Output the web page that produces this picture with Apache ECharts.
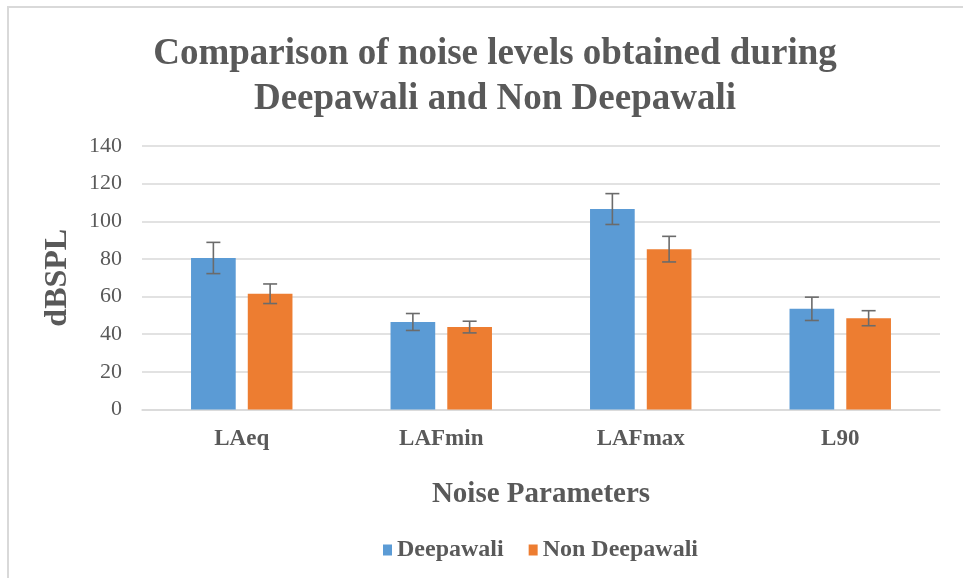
<!DOCTYPE html>
<html>
<head>
<meta charset="utf-8">
<script src="https://cdn.jsdelivr.net/npm/echarts@6/dist/echarts.min.js"></script>
<style>
html, body { margin: 0; padding: 0; background: #fff; }
#frame { position: absolute; left: 7px; top: 6px; right: 0; bottom: 0; border-left: 2px solid #d9d9d9; border-top: 2px solid #d9d9d9; }
#chart { position: absolute; left: 0; top: 0; width: 963px; height: 578px; }
</style>
</head>
<body>
<div id="frame"></div>
<div id="chart"></div>
<script>
// 数据
var categories = ['LAeq', 'LAFmin', 'LAFmax', 'L90'];
var deepawali = [80.5, 46.5, 106.5, 53.5];
var deepawaliErr = [8.3, 4.5, 8.2, 6.2];
var nonDeepawali = [61.5, 43.8, 85.2, 48.5];
var nonDeepawaliErr = [5.2, 3.1, 6.8, 4.0];
var yTicks = { min: 0, max: 140, interval: 20 };

var fontFamily = '"Liberation Serif", "Times New Roman", serif';
var textColor = '#595959';
var barWidthPct = 0.224, barGapPct = 0.27;

// 误差线 custom series
function errorSeries(name, values, errs, side) {
	var data = [];
	for (var i = 0; i < values.length; i++) {
		data.push([i, values[i] - errs[i], values[i] + errs[i]]);
	}
	return {
		name: name,
		type: 'custom',
		z: 10,
		silent: true,
		renderItem: function(params, api) {
			var catW = api.size([1, 0])[0];
			var offset = side * catW * barWidthPct * (1 + barGapPct) / 2;
			var lo = api.coord([api.value(0), api.value(1)]);
			var hi = api.coord([api.value(0), api.value(2)]);
			var x = lo[0] + offset;
			var cap = 7;
			var style = { stroke: '#6b6b6b', lineWidth: 1.6 };
			return {
				type: 'group',
				children: [
					{ type: 'line', shape: { x1: x, y1: lo[1], x2: x, y2: hi[1] }, style: style },
					{ type: 'line', shape: { x1: x - cap, y1: lo[1], x2: x + cap, y2: lo[1] }, style: style },
					{ type: 'line', shape: { x1: x - cap, y1: hi[1], x2: x + cap, y2: hi[1] }, style: style }
				]
			};
		},
		encode: { x: 0, y: [1, 2] },
		data: data
	};
}

var myChart = echarts.init(document.getElementById('chart'));
var option = {
	animation: false,
	textStyle: { fontFamily: fontFamily },
	title: {
		text: 'Comparison of noise levels obtained during\nDeepawali and Non Deepawali',
		left: 490,
		top: 27,
		textAlign: 'center',
		textStyle: {
			fontFamily: fontFamily,
			fontSize: 37,
			fontWeight: 'bold',
			color: textColor,
			lineHeight: 45
		}
	},
	legend: {
		data: ['Deepawali', 'Non Deepawali'],
		left: 378,
		top: 533,
		itemWidth: 9,
		itemHeight: 11,
		itemGap: 25,
		icon: 'rect',
		textStyle: {
			fontFamily: fontFamily,
			fontSize: 24,
			fontWeight: 'bold',
			color: textColor
		}
	},
	grid: {
		left: 142,
		right: 23,
		top: 146,
		bottom: 168.5
	},
	xAxis: {
		type: 'category',
		data: categories,
		name: 'Noise Parameters',
		nameLocation: 'middle',
		nameGap: 71,
		nameTextStyle: {
			fontFamily: fontFamily,
			fontSize: 29,
			fontWeight: 'bold',
			color: textColor
		},
		axisLine: { lineStyle: { color: '#d9d9d9', width: 1.5 } },
		axisTick: { show: false },
		axisLabel: {
			margin: 18,
			fontFamily: fontFamily,
			fontSize: 23,
			fontWeight: 'bold',
			color: textColor
		}
	},
	yAxis: {
		type: 'value',
		min: yTicks.min,
		max: yTicks.max,
		interval: yTicks.interval,
		name: 'dBSPL',
		nameLocation: 'middle',
		nameGap: 68,
		nameTextStyle: {
			fontFamily: fontFamily,
			fontSize: 32,
			fontWeight: 'bold',
			color: textColor
		},
		axisLine: { show: false },
		axisTick: { show: false },
		splitLine: { lineStyle: { color: '#d9d9d9', width: 1.5 } },
		axisLabel: {
			margin: 20,
			fontFamily: fontFamily,
			fontSize: 22,
			color: textColor
		}
	},
	series: [
		{
			name: 'Deepawali',
			type: 'bar',
			barWidth: (barWidthPct * 100) + '%',
			barGap: (barGapPct * 100) + '%',
			itemStyle: { color: '#5b9bd5' },
			data: deepawali
		},
		{
			name: 'Non Deepawali',
			type: 'bar',
			barWidth: (barWidthPct * 100) + '%',
			barGap: (barGapPct * 100) + '%',
			itemStyle: { color: '#ed7d31' },
			data: nonDeepawali
		},
		errorSeries('Deepawali err', deepawali, deepawaliErr, -1),
		errorSeries('Non Deepawali err', nonDeepawali, nonDeepawaliErr, 1)
	]
};

myChart.setOption(option, true);
</script>
</body>
</html>
